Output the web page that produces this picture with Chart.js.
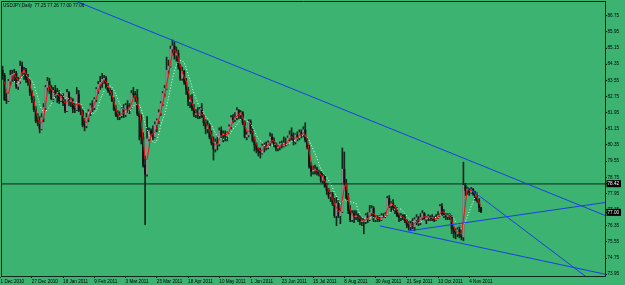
<!DOCTYPE html>
<html>
<head>
<meta charset="utf-8">
<script src="https://cdn.jsdelivr.net/npm/chart.js@4.4.1/dist/chart.umd.min.js"></script>
<style>
  html, body { margin: 0; padding: 0; background: #3cb371; }
  canvas { display: block; }
</style>
</head>
<body>
<canvas id="chart" width="625" height="285"></canvas>
<script>
// USDJPY daily bars, 1 Dec 2010 .. 11 Nov 2011
const opens = [
  83.70,84.05,83.80,82.60,82.55,83.50,83.80,83.85,83.90,83.25,83.50,84.25,83.95,84.05,83.60,83.45,
  82.95,82.60,82.10,81.55,81.50,81.15,81.70,82.20,83.20,83.50,83.20,82.65,83.05,82.85,82.90,82.55,
  82.75,82.45,82.05,82.95,82.50,82.55,82.15,82.10,82.85,82.10,82.05,81.35,81.30,81.70,82.00,82.30,
  82.20,82.60,83.10,83.35,83.45,83.60,83.65,83.20,83.05,82.90,82.55,82.10,81.80,81.75,81.80,82.15,
  81.85,82.30,82.10,82.20,82.90,82.85,82.70,81.90,81.75,80.75,79.35,78.90,80.65,81.05,80.90,80.75,
  81.35,81.55,81.95,82.40,82.90,83.15,84.05,84.25,85.10,85.25,84.80,84.90,84.25,83.65,84.00,83.45,
  83.10,82.50,82.60,82.15,81.85,81.90,81.80,82.10,81.75,81.45,81.15,81.30,80.75,80.45,80.15,80.50,
  80.40,81.05,80.85,80.90,80.80,80.95,81.25,81.70,81.60,81.70,82.05,81.85,81.95,81.45,80.75,80.85,
  81.50,81.00,80.60,80.35,80.15,80.05,79.95,80.30,80.30,80.25,80.45,80.75,80.55,80.35,80.20,80.25,
  80.40,80.30,80.45,80.40,80.70,80.85,80.75,80.50,80.85,80.75,80.95,80.85,81.10,80.60,80.25,79.30,
  79.05,79.10,79.15,79.00,78.95,78.60,78.80,78.30,78.10,77.80,77.90,77.45,76.85,77.45,76.85,77.05,
  79.15,78.45,77.75,77.10,76.65,76.95,76.80,76.85,76.75,76.55,76.55,76.55,76.85,76.65,77.00,77.20,
  76.65,76.75,76.70,76.65,76.85,76.80,76.90,77.70,77.35,77.45,77.25,77.20,76.85,76.75,76.85,76.75,
  76.60,76.40,76.30,76.45,76.30,76.65,76.75,76.50,76.75,76.95,76.70,76.75,76.80,76.75,76.70,76.65,
  76.75,76.85,77.30,76.95,76.85,76.80,76.85,76.80,76.20,76.05,75.95,76.15,75.85,75.80,78.35,78.10,
  78.15,78.00,78.15,77.95,77.70,77.60,77.25
];
const highs = [
  84.20,84.25,83.90,82.90,83.60,84.05,84.05,84.10,84.00,83.70,84.50,84.45,84.20,84.15,83.85,83.60,
  83.05,82.75,82.25,81.90,81.75,81.90,82.40,83.30,83.70,83.65,83.30,83.20,83.30,83.15,83.05,82.85,
  82.90,82.60,83.10,83.00,82.70,82.65,82.40,83.20,83.05,82.30,82.10,81.65,81.95,82.10,82.40,82.55,
  82.70,83.20,83.50,83.75,83.90,83.80,83.75,83.40,83.15,83.05,82.70,82.30,82.05,82.00,82.20,82.35,
  82.40,82.55,82.40,83.05,83.20,83.00,83.10,82.00,81.85,80.95,79.80,81.75,81.20,81.15,81.30,81.50,
  81.65,82.10,82.50,83.00,83.30,84.70,84.55,85.25,85.55,85.45,85.20,85.05,84.35,84.20,84.05,83.65,
  83.20,82.80,82.85,82.35,82.10,82.20,82.25,82.40,81.85,81.60,81.55,81.40,81.05,80.75,80.65,80.75,
  81.20,81.25,81.05,81.05,81.00,81.35,81.80,81.85,81.95,82.20,82.10,82.05,82.00,81.55,81.00,81.60,
  81.60,81.15,80.75,80.45,80.20,80.20,80.40,80.45,80.50,80.55,80.95,80.90,80.70,80.45,80.40,80.50,
  80.55,80.75,80.70,80.80,81.05,81.20,80.95,80.90,81.00,81.10,81.10,81.25,81.45,80.70,80.35,79.50,
  79.30,79.35,79.25,79.10,79.05,78.95,78.85,78.45,78.20,78.00,78.00,77.70,77.75,77.60,77.20,80.20,
  80.00,78.65,77.95,77.35,77.10,77.10,77.10,76.95,76.85,76.75,76.70,76.95,77.00,77.35,77.35,77.30,
  76.85,76.85,76.85,76.95,76.95,77.00,77.80,77.85,77.55,77.65,77.35,77.25,76.95,76.95,76.90,76.90,
  76.65,76.55,76.60,76.70,76.75,76.90,76.80,76.95,77.10,77.00,76.80,76.90,76.85,76.90,76.80,76.90,
  77.05,77.40,77.45,77.15,76.95,76.95,76.95,76.85,76.30,76.20,76.25,76.35,76.10,79.50,78.45,78.25,
  78.20,78.25,78.20,78.05,78.00,77.70,77.26
];
const lows = [
  83.50,83.60,82.55,82.40,82.50,83.30,83.50,83.50,83.15,83.10,83.40,83.80,83.60,83.45,83.30,82.80,
  82.45,82.00,81.45,81.30,80.95,81.10,81.50,82.10,83.00,82.90,82.60,82.50,82.70,82.45,82.40,82.50,
  82.30,81.95,82.00,82.30,82.25,81.95,81.95,82.05,82.00,81.85,81.25,81.05,81.20,81.50,81.80,82.00,
  82.10,82.50,82.90,83.10,83.20,83.40,83.10,82.95,82.80,82.50,82.05,81.75,81.60,81.60,81.70,81.70,
  81.75,81.95,81.90,82.15,82.70,82.50,81.80,80.60,80.40,79.25,76.40,78.80,80.55,80.80,80.60,80.70,
  81.00,81.40,81.80,82.30,82.75,83.10,83.90,84.20,84.90,84.60,84.50,84.10,83.55,83.55,83.35,82.85,
  82.30,82.20,82.05,81.75,81.70,81.65,81.65,81.70,81.30,80.90,80.95,80.65,80.35,79.60,80.00,80.10,
  80.30,80.70,80.50,80.55,80.55,80.90,81.15,81.45,81.50,81.60,81.65,81.60,81.35,80.70,80.60,80.75,
  80.90,80.50,80.05,79.95,79.80,79.70,79.90,80.00,80.10,80.15,80.30,80.45,80.25,80.05,80.05,80.10,
  80.20,80.25,80.30,80.35,80.55,80.60,80.35,80.40,80.55,80.60,80.70,80.75,80.50,80.15,79.20,78.80,
  78.90,78.90,78.85,78.80,78.50,78.45,78.25,77.90,77.70,77.55,77.35,76.75,76.35,76.75,76.45,77.00,
  78.35,77.65,76.95,76.55,76.55,76.50,76.65,76.55,76.40,76.35,75.95,76.45,76.50,76.60,76.85,76.55,
  76.55,76.55,76.55,76.60,76.75,76.75,76.85,77.25,77.05,77.10,76.95,76.80,76.55,76.60,76.65,76.50,
  76.25,76.15,76.10,76.20,76.10,76.40,76.35,76.40,76.65,76.60,76.45,76.60,76.60,76.60,76.55,76.60,
  76.70,76.80,76.85,76.75,76.65,76.65,76.65,75.95,75.75,75.70,75.80,75.75,75.65,75.60,77.85,77.90,
  77.85,77.95,77.85,77.60,77.50,77.05,77.00
];
const closes = [
  84.05,83.80,82.60,82.55,83.50,83.80,83.85,83.90,83.25,83.50,84.25,83.95,84.05,83.60,83.45,82.95,
  82.60,82.10,81.55,81.50,81.15,81.70,82.20,83.20,83.50,83.20,82.65,83.05,82.85,82.90,82.55,82.75,
  82.45,82.05,82.95,82.50,82.55,82.15,82.10,82.85,82.10,82.05,81.35,81.30,81.70,82.00,82.30,82.20,
  82.60,83.10,83.35,83.45,83.60,83.65,83.20,83.05,82.90,82.55,82.10,81.80,81.75,81.80,82.15,81.85,
  82.30,82.10,82.20,82.90,82.85,82.70,81.90,81.75,80.75,79.35,78.90,80.65,81.05,80.90,80.75,81.35,
  81.55,81.95,82.40,82.90,83.15,84.05,84.25,85.10,85.25,84.80,84.90,84.25,83.65,84.00,83.45,83.10,
  82.50,82.60,82.15,81.85,81.90,81.80,82.10,81.75,81.45,81.15,81.30,80.75,80.45,80.15,80.50,80.40,
  81.05,80.85,80.90,80.80,80.95,81.25,81.70,81.60,81.70,82.05,81.85,81.95,81.45,80.75,80.85,81.50,
  81.00,80.60,80.35,80.15,80.05,79.95,80.30,80.30,80.25,80.45,80.75,80.55,80.35,80.20,80.25,80.40,
  80.30,80.45,80.40,80.70,80.85,80.75,80.50,80.85,80.75,80.95,80.85,81.10,80.60,80.25,79.30,79.05,
  79.10,79.15,79.00,78.95,78.60,78.80,78.30,78.10,77.80,77.90,77.45,76.85,77.45,76.85,77.05,79.15,
  78.45,77.75,77.10,76.65,76.95,76.80,76.85,76.75,76.55,76.55,76.55,76.85,76.65,77.00,77.20,76.65,
  76.75,76.70,76.65,76.85,76.80,76.90,77.70,77.35,77.45,77.25,77.20,76.85,76.75,76.85,76.75,76.60,
  76.40,76.30,76.45,76.30,76.65,76.75,76.50,76.75,76.95,76.70,76.75,76.80,76.75,76.70,76.65,76.75,
  76.85,77.30,76.95,76.85,76.80,76.85,76.80,76.20,76.05,75.95,76.15,75.85,75.80,78.35,78.10,78.15,
  78.00,78.15,77.95,77.70,77.60,77.25,77.06
];

// date labels, one every 16 bars
const xLabels = ['1 Dec 2010', '27 Dec 2010', '18 Jan 2011', '9 Feb 2011', '3 Mar 2011', '25 Mar 2011',
  '18 Apr 2011', '10 May 2011', '1 Jun 2011', '23 Jun 2011', '15 Jul 2011', '8 Aug 2011',
  '30 Aug 2011', '21 Sep 2011', '13 Oct 2011', '4 Nov 2011'];
const yTicks = [86.75, 85.95, 85.15, 84.35, 83.55, 82.75, 81.95, 81.15, 80.35, 79.55,
  78.75, 77.95, 77.15, 76.35, 75.55, 74.75, 73.95];

const levelPrice = 78.42;   // horizontal line
const bidPrice = 77.00;     // price box on the axis
// trend lines: [bar index, price] start and end
const trendLines = [
  [[39.1, 87.45], [309.5, 76.86]],
  [[194.3, 76.34], [309.5, 73.95]],
  [[208.6, 76.09], [309.5, 77.50]],
  [[238.8, 78.29], [299.3, 73.86]]
];

const xMin = 0.2, xMax = 309.5;
const yMin = 73.86, yMax = 87.48;
const INK = '#10261a';
const FONT = { family: "'Liberation Sans', Arial, sans-serif", size: 4.6 };

const wicks = closes.map((c, i) => ({ x: i, y: [lows[i], highs[i]] }));
const bodies = closes.map((c, i) => ({ x: i, y: [opens[i], c] }));
const bodyColors = closes.map((c, i) => c >= opens[i] ? '#8c8c8c' : '#141414');

// simple moving average of the closes
function sma(period) {
  const out = [];
  for (let i = period - 1; i < closes.length; i++) {
    let s = 0;
    for (let j = i - period + 1; j <= i; j++) s += closes[j];
    out.push({ x: i, y: s / period });
  }
  return out;
}

const last = closes.length - 1;
const title = 'USDJPY,Daily  ' + [opens[last], highs[last], lows[last], closes[last]].map(v => v.toFixed(2)).join(' ');

const frame = {
  id: 'frame',
  afterDraw(chart) {
    const { ctx, chartArea: a } = chart;
    ctx.save();
    ctx.strokeStyle = INK;
    ctx.lineWidth = 1;
    ctx.beginPath();
    ctx.moveTo(a.left + 0.5, a.bottom);
    ctx.lineTo(a.left + 0.5, a.top + 0.5);
    ctx.lineTo(a.right, a.top + 0.5);
    ctx.stroke();
    ctx.font = FONT.size + 'px ' + FONT.family;
    ctx.fillStyle = '#000';
    ctx.textBaseline = 'top';
    ctx.fillText(title, a.left + 2, a.top + 2);
    ctx.restore();
  }
};

const isMark = v => v === levelPrice || v === bidPrice;

new Chart(document.getElementById('chart'), {
  type: 'bar',
  data: {
    datasets: [
      ...trendLines.map(seg => ({
        type: 'line', data: seg.map(p => ({ x: p[0], y: p[1] })),
        borderColor: '#1b3fe4', borderWidth: 1, pointRadius: 0, order: 0
      })),
      { type: 'line', data: [{ x: xMin, y: levelPrice }, { x: xMax, y: levelPrice }],
        borderColor: INK, borderWidth: 1, pointRadius: 0, order: 1 },
      { type: 'line', data: sma(3), borderColor: '#ee1111', borderWidth: 1, pointRadius: 0, order: 2 },
      { type: 'line', data: sma(8), borderColor: '#ffffff', borderWidth: 1, borderDash: [1, 2],
        pointRadius: 0, order: 3 },
      { type: 'bar', data: bodies, backgroundColor: bodyColors, barThickness: 1.5, minBarLength: 1,
        grouped: false, order: 4 },
      { type: 'bar', data: wicks, backgroundColor: INK, barThickness: 1, grouped: false, order: 5 }
    ]
  },
  options: {
    responsive: false,
    animation: false,
    events: [],
    layout: { padding: { left: 1, top: 1, right: 0, bottom: 0 } },
    plugins: { legend: { display: false }, tooltip: { enabled: false } },
    scales: {
      x: {
        type: 'linear', min: xMin, max: xMax, offset: false,
        grid: { drawOnChartArea: false, offset: false, color: INK, tickLength: 2 },
        border: { color: INK },
        ticks: { align: 'start', padding: 0.5, maxRotation: 0, autoSkip: false, font: FONT, color: '#000',
          callback: (v, i) => xLabels[i] },
        afterBuildTicks: s => { s.ticks = xLabels.map((_, k) => ({ value: k * 16 })); },
        afterFit: s => { s.height = 9; s.paddingLeft = 0; s.paddingRight = 0; }
      },
      y: {
        position: 'right', min: yMin, max: yMax,
        grid: { drawOnChartArea: false, color: INK, tickLength: 2 },
        border: { color: INK },
        ticks: {
          padding: 0.5, autoSkip: false, font: FONT,
          color: c => isMark(c.tick.value) ? '#ffffff' : '#000000',
          showLabelBackdrop: c => isMark(c.tick.value),
          backdropColor: '#000000',
          backdropPadding: { top: 1, bottom: 0.5, left: 1, right: 2 },
          callback: v => v.toFixed(2)
        },
        afterBuildTicks: s => { s.ticks = yTicks.concat([levelPrice, bidPrice]).map(v => ({ value: v })); },
        afterFit: s => { s.width = 20; s.paddingTop = 0; s.paddingBottom = 0; }
      }
    }
  },
  plugins: [frame]
});
</script>
</body>
</html>
